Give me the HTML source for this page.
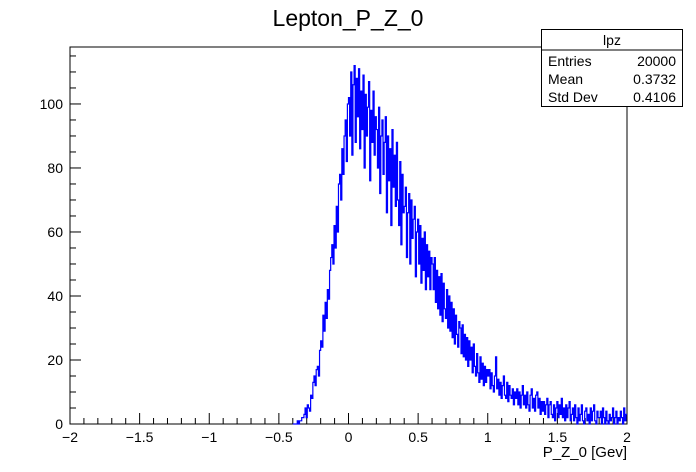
<!DOCTYPE html>
<html><head><meta charset="utf-8"><style>
body{margin:0;background:#fff;}
svg{display:block;font-family:"Liberation Sans",sans-serif;}
</style></head><body>
<svg width="696" height="472" viewBox="0 0 696 472" xmlns="http://www.w3.org/2000/svg">
<rect x="0" y="0" width="696" height="472" fill="#fff"/>
<text x="348" y="26" font-size="23" text-anchor="middle">Lepton_P_Z_0</text>
<rect x="70" y="47" width="557" height="377" fill="none" stroke="#000" stroke-width="1"/>
<g id="axes"></g>
<path id="hist" fill="none" stroke="#0000ff" stroke-width="1.2"/>
<g>
<rect x="541.5" y="29.5" width="141" height="77" fill="#fff" stroke="#000"/>
<line x1="541.5" y1="50" x2="682.5" y2="50" stroke="#000"/>
<text x="612" y="45" font-size="14" text-anchor="middle">lpz</text>
<text x="548" y="66" font-size="14">Entries</text><text x="676" y="66" font-size="14" text-anchor="end">20000</text>
<text x="548" y="84" font-size="14">Mean</text><text x="676" y="84" font-size="14" text-anchor="end">0.3732</text>
<text x="548" y="102" font-size="14">Std Dev</text><text x="676" y="102" font-size="14" text-anchor="end">0.4106</text>
</g>
<text x="627" y="457" font-size="15" text-anchor="end">P_Z_0 [Gev]</text>
</svg>
<script>
const binStart = -0.4;
const binWidth = 0.008;
const counts = [
0,0,0,0,1,0,1,1,2,2,3,5,2,6,5,4,9,8,13,15,12,17,18,15,23,
26,24,34,29,38,33,42,39,48,52,56,50,62,55,68,60,75,78,70,86,78,90,95,82,100,
102,90,110,84,106,112,88,108,96,111,86,104,92,109,80,103,90,99,107,76,98,88,104,84,96,
92,80,99,72,90,95,78,88,96,66,90,76,86,62,92,74,84,68,88,70,62,82,56,78,66,
68,74,52,66,72,50,70,58,64,68,46,60,64,50,62,44,58,48,60,42,56,46,54,42,52,
50,42,52,38,48,36,46,34,47,32,44,36,33,42,30,40,29,38,27,36,25,34,28,24,32,
30,22,31,21,28,20,27,18,26,20,24,16,25,18,15,22,16,13,21,14,19,12,18,13,17,
15,17,11,16,12,10,15,21,11,14,9,13,8,12,15,9,8,13,7,12,9,8,11,6,10,
8,11,6,10,5,9,12,6,9,5,10,6,4,9,11,5,8,4,9,10,5,8,3,7,4,
7,3,6,8,2,6,7,3,2,6,1,5,7,2,6,3,8,2,5,1,6,2,5,7,1,
3,5,1,6,2,0,5,1,3,6,1,0,4,5,1,3,0,5,1,4,6,1,0,4,2,
2,4,0,5,2,0,4,1,0,3,1,2,5,0,2,4,0,2,1,4,2,0,5,1,3];
const xTicks = [-2,-1.5,-1,-0.5,0,0.5,1,1.5,2];
const xTickLabels = ["\u22122","\u22121.5","\u22121","\u22120.5","0","0.5","1","1.5","2"];
const yTicks = [0,20,40,60,80,100];
const yTickLabels = ["0","20","40","60","80","100"];
const xMin=-2,xMax=2,yMin=0,yMax=117.8;
const L=70,R=627,T=47,B=424;
const sx=v=>L+(v-xMin)/(xMax-xMin)*(R-L);
const sy=v=>B-(v-yMin)/(yMax-yMin)*(B-T);
const NS="http://www.w3.org/2000/svg";
const ax=document.getElementById('axes');
function ln(x1,y1,x2,y2,name){const e=document.createElementNS(NS,'line');
e.setAttribute('x1',x1);e.setAttribute('y1',y1);e.setAttribute('x2',x2);e.setAttribute('y2',y2);
e.setAttribute('stroke','#000');


ax.appendChild(e);}
function tx(x,y,s,anchor,name){const e=document.createElementNS(NS,'text');
e.setAttribute('x',x);e.setAttribute('y',y);e.setAttribute('font-size','14');e.setAttribute('text-anchor',anchor);e.textContent=s;


ax.appendChild(e);}
for(let i=0;i<=40;i++){const v=-2+i*0.1;const x=sx(v);const major=i%5===0;ln(x,B,x,B-(major?11:6),major?'x-major-tick':'x-minor-tick');}
xTicks.forEach((v,i)=>tx(sx(v),442,xTickLabels[i],'middle','x-tick-label'));
for(let v=0;v<=115;v+=5){const y=sy(v);const major=v%20===0;ln(L,y,L+(major?11:6),y,major?'y-major-tick':'y-minor-tick');}
yTicks.forEach((v,i)=>tx(L-7,sy(v)+5,yTickLabels[i],'end','y-tick-label'));
let d='M'+sx(binStart)+','+sy(0);
counts.forEach((c,i)=>{const x0=sx(binStart+i*binWidth),x1=sx(binStart+(i+1)*binWidth);d+=' L'+x0.toFixed(2)+','+sy(c).toFixed(2)+' L'+x1.toFixed(2)+','+sy(c).toFixed(2);});
document.getElementById('hist').setAttribute('d',d);
</script>
</body></html>
